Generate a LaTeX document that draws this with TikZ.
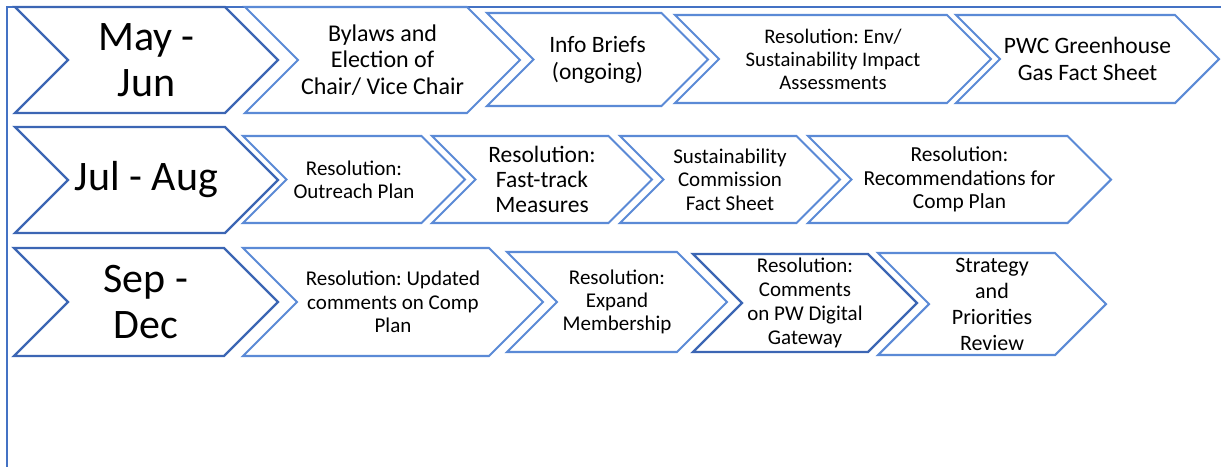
\documentclass[tikz,border=0pt]{standalone}
\usepackage{fontspec}
\setmainfont{Carlito}
\frenchspacing
\definecolor{frameblue}{HTML}{4472C4}
\definecolor{lightblue}{HTML}{5B8AD6}
\definecolor{darkblue}{HTML}{3C66B4}
\newcommand\mychev[8]{%
  \pgfmathsetmacro\chd{(#5-#3)/2}%
  \pgfmathsetmacro\chm{(#5+#3)/2}%
  \pgfmathsetmacro\chc{(#2+#4)/2}%
  \draw[#6] (#2,#3) -- ({#4-\chd},#3) -- (#4,\chm) -- ({#4-\chd},#5) -- (#2,#5) -- ({#2+\chd},\chm) -- cycle;
  \node[lbl,#7] (#1) at (\chc,\chm) {#8};
}
\begin{document}
\begin{tikzpicture}[x=1pt,y=-1pt,
  chevlight/.style={draw=lightblue,fill=white,line width=2.1pt,line join=miter},
  chevdark/.style={draw=darkblue,fill=white,line width=2.3pt,line join=miter},
  lbl/.style={align=center,inner sep=0pt,text=black,execute at begin node=\frenchspacing},
  fbig/.style={font=\fontsize{42}{46}\selectfont}]
\useasboundingbox (0,0) rectangle (1221,466);
\draw[frameblue,line width=2pt] (6.5,480) -- (6.5,6.5) -- (1240,6.5);
% Row 1
\mychev{a1}{15}{7}{278}{113}{chevdark}{fbig}{May -\\Jun}
\mychev{b1}{245}{7}{520}{113}{chevlight}{font=\fontsize{24}{26.5}\selectfont}{Bylaws and\\Election of\\Chair/ Vice Chair}
\mychev{c1}{487}{13}{708}{106}{chevlight}{font=\fontsize{23.5}{27}\selectfont}{Info Briefs\\(ongoing)}
\mychev{d1}{675}{15}{991}{103}{chevlight}{font=\fontsize{20.7}{23}\selectfont}{Resolution: Env/\\Sustainability Impact\\Assessments}
\mychev{e1}{956}{15}{1219}{103}{chevlight}{font=\fontsize{23.5}{27}\selectfont}{PWC Greenhouse\\Gas Fact Sheet}
% Row 2
\mychev{a2}{15}{127}{278}{233}{chevdark}{fbig}{Jul - Aug}
\mychev{b2}{243}{136}{465}{223}{chevlight}{font=\fontsize{21}{23}\selectfont}{Resolution:\\Outreach Plan}
\mychev{c2}{432}{136}{652}{223}{chevlight}{font=\fontsize{23.5}{25}\selectfont}{Resolution:\\Fast-track\\Measures}
\mychev{d2}{620}{136}{840}{223}{chevlight}{font=\fontsize{21}{23.5}\selectfont}{Sustainability\\Commission\\Fact Sheet}
\mychev{e2}{808}{136}{1111}{223}{chevlight}{font=\fontsize{21.4}{23.5}\selectfont}{Resolution:\\Recommendations for\\Comp Plan}
% Row 3
\mychev{a3}{14}{248}{278}{356}{chevdark}{fbig}{Sep -\\Dec}
\mychev{b3}{243}{248}{543}{356}{chevlight}{font=\fontsize{21}{23.5}\selectfont}{Resolution: Updated\\comments on Comp\\Plan}
\mychev{c3}{507}{252}{727}{352}{chevlight}{font=\fontsize{21}{23}\selectfont}{Resolution:\\Expand\\Membership}
\mychev{d3}{693}{254}{917}{352}{chevdark}{font=\fontsize{21}{24}\selectfont}{Resolution:\\Comments\\on PW Digital\\Gateway}
\mychev{e3}{878}{253}{1106}{355}{chevlight}{font=\fontsize{22}{26}\selectfont}{Strategy\\and\\Priorities\\Review}
\end{tikzpicture}
\end{document}
